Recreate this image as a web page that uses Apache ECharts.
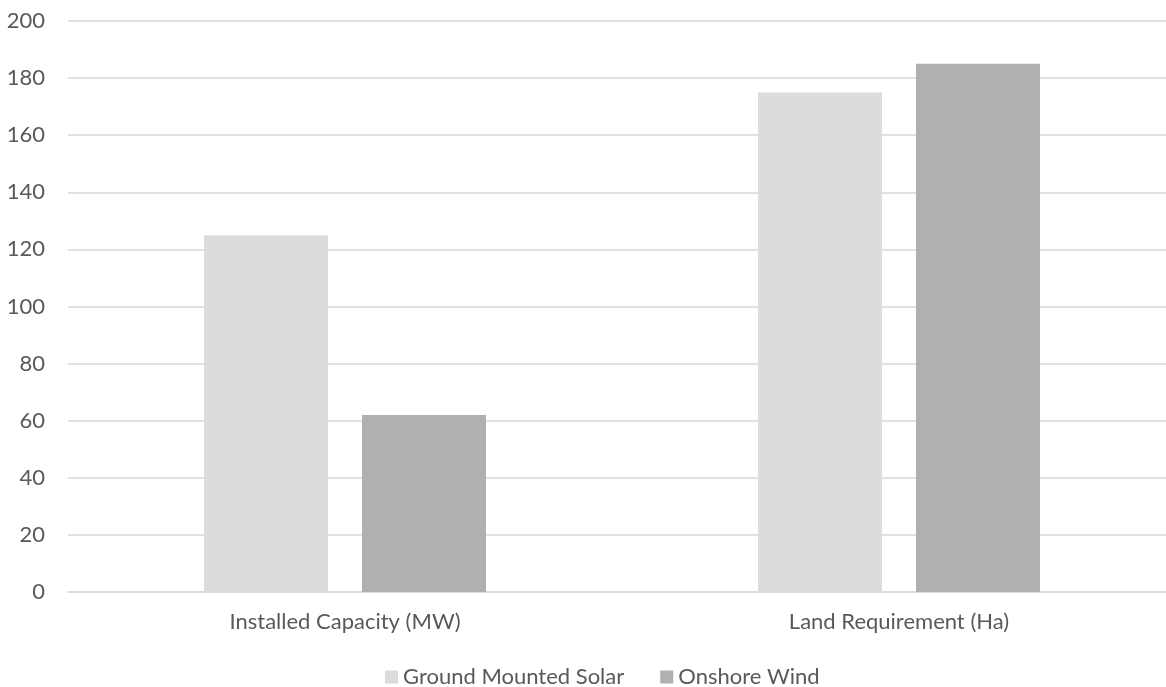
<!DOCTYPE html>
<html>
<head>
<meta charset="utf-8">
<title>Ground Mounted Solar vs Onshore Wind</title>
<script src="https://cdn.jsdelivr.net/npm/echarts@6/dist/echarts.min.js"></script>
<style>
  html, body { margin: 0; padding: 0; background: #ffffff; }
  #chart { width: 1166px; height: 687px; }
</style>
</head>
<body>
<div id="chart"></div>
<script>
// Chart data
var categories = ['Installed Capacity (MW)', 'Land Requirement (Ha)'];
var solarValues = [125, 175];
var windValues = [62, 185];
var seriesNames = ['Ground Mounted Solar', 'Onshore Wind'];

var FONT = 'Lato, "Liberation Sans", sans-serif';
var TEXT_COLOR = '#595959';

var chart = echarts.init(document.getElementById('chart'), null, { renderer: 'canvas' });

chart.setOption({
  animation: false,
  backgroundColor: '#ffffff',
  textStyle: { fontFamily: FONT },
  grid: {
    left: 68,
    top: 21,
    bottom: 95,
    width: 1108,
    containLabel: false,
    outerBoundsMode: 'none'
  },
  legend: {
    data: seriesNames,
    left: 380,
    top: 661,
    icon: 'rect',
    itemWidth: 13,
    itemHeight: 13,
    itemGap: 36,
    textStyle: { color: TEXT_COLOR, fontSize: 22, fontFamily: FONT, padding: [0, 0, 0, 0] }
  },
  xAxis: {
    type: 'category',
    data: categories,
    axisLine: { show: true, lineStyle: { color: '#d9d9d9', width: 1.5 } },
    axisTick: { show: false },
    axisLabel: { color: TEXT_COLOR, fontSize: 22, fontFamily: FONT, margin: 19 }
  },
  yAxis: {
    type: 'value',
    min: 0,
    max: 200,
    interval: 20,
    axisLine: { show: false },
    axisTick: { show: false },
    splitLine: { show: true, lineStyle: { color: '#d9d9d9', width: 1.5 } },
    axisLabel: { color: TEXT_COLOR, fontSize: 22, fontFamily: FONT, margin: 23 }
  },
  series: [
    {
      name: seriesNames[0],
      type: 'bar',
      data: solarValues,
      barWidth: 124,
      barGap: '27.4%',
      itemStyle: { color: '#dcdcdc' }
    },
    {
      name: seriesNames[1],
      type: 'bar',
      data: windValues,
      barWidth: 124,
      barGap: '27.4%',
      itemStyle: { color: '#b0b0b0' }
    }
  ]
});
</script>
</body>
</html>
